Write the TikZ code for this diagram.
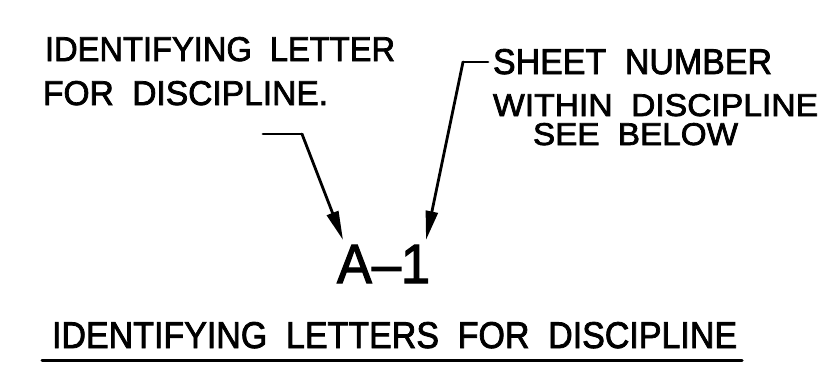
\documentclass[tikz,border=0pt]{standalone}
\usepackage{fontspec}
\setmainfont{Liberation Sans}[FakeBold=2.2]
\usepackage{graphicx}
\usetikzlibrary{arrows.meta}
\tikzset{
  lbl/.style={anchor=base west, inner sep=0pt, outer sep=0pt},
  leader/.style={line width=2.8pt, line cap=round, line join=round},
  tip/.style={-{Triangle[length=29pt,width=12pt]}}
}
\newcommand{\fitbox}[3]{\resizebox{#1pt}{#2pt}{#3}}
\newcommand{\gap}{\hspace{0.55em}}
\begin{document}
\begin{tikzpicture}[x=1pt,y=-1pt]
\useasboundingbox (0,0) rectangle (829,370);
% texts
\node[lbl] (t1) at (45,61) {\fitbox{350}{24}{IDENTIFYING\gap LETTER}};
\node[lbl] (t2) at (43,105) {\fitbox{285}{24}{FOR\gap DISCIPLINE.}};
\node[lbl] (t3) at (493,74) {\fitbox{279}{25}{SHEET\gap NUMBER}};
\node[lbl] (t4) at (493,116) {\fitbox{325}{22}{WITHIN\gap DISCIPLINE}};
\node[lbl] (t5) at (533,145) {\fitbox{205}{22}{SEE\gap BELOW}};
\node[lbl] (a1) at (337,283) {\fitbox{93}{38}{A–1}};
\node[lbl] (t6) at (52,348) {\fitbox{685}{26}{IDENTIFYING\gap LETTERS\gap FOR\gap DISCIPLINE}};
% leader coordinates
\coordinate (l0) at (263,134);
\coordinate (l1) at (302,134);
\coordinate (l2) at (343,240);
\coordinate (r0) at (488,62);
\coordinate (r1) at (463,62);
\coordinate (r2) at (426,240);
\coordinate (u0) at (42,360);
\coordinate (u1) at (742,360);
% leaders
\draw[leader] (l0) -- (l1);
\draw[leader,tip] (l1) -- (l2);
\draw[leader] (r0) -- (r1);
\draw[leader,tip] (r1) -- (r2);
% underline
\draw[line width=3pt, line cap=round] (u0) -- (u1);
\end{tikzpicture}
\end{document}
